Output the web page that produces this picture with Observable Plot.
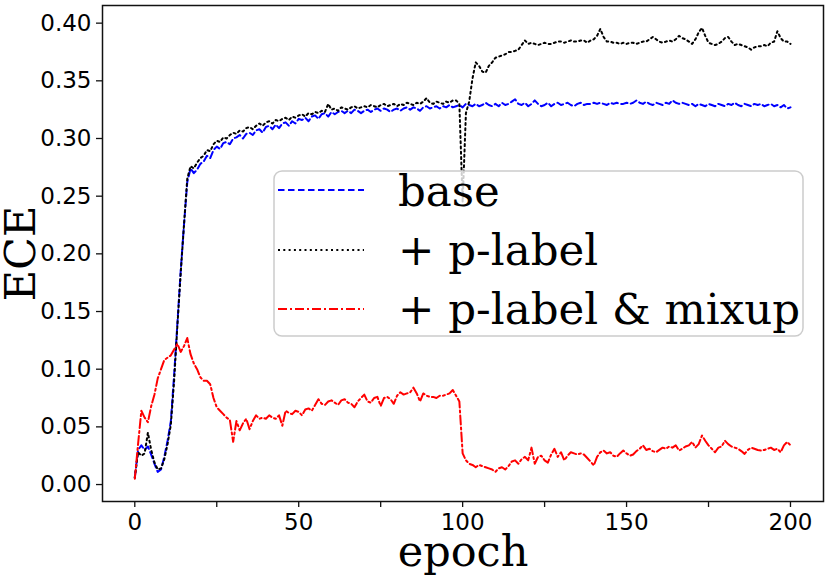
<!DOCTYPE html>
<html>
<head>
<meta charset="utf-8">
<script src="https://cdn.jsdelivr.net/npm/d3@7"></script>
<script src="https://cdn.jsdelivr.net/npm/@observablehq/plot@0.6"></script>
<style>
  html, body { margin: 0; padding: 0; background: white; }
  #wrap { position: relative; width: 830px; height: 581px; }
  #legend { position: absolute; left: 273px; top: 170px; }
</style>
</head>
<body>
<div id="wrap"></div>
<script>
// ECE per epoch (index = epoch 0..200)
const base = [
0.006,0.030,0.034,0.030,0.033,0.026,0.018,0.011,0.013,0.024,
0.038,0.055,0.095,0.140,0.185,0.225,0.262,0.274,0.270,0.273,
0.278,0.280,0.285,0.283,0.290,0.293,0.291,0.296,0.297,0.295,
0.300,0.301,0.303,0.300,0.304,0.305,0.303,0.307,0.308,0.305,
0.310,0.311,0.308,0.312,0.309,0.313,0.314,0.311,0.315,0.313,
0.317,0.316,0.318,0.315,0.319,0.320,0.317,0.321,0.322,0.319,
0.323,0.321,0.323,0.324,0.322,0.324,0.322,0.325,0.324,0.322,
0.324,0.325,0.323,0.325,0.326,0.324,0.326,0.325,0.323,0.325,
0.326,0.324,0.326,0.327,0.325,0.327,0.326,0.324,0.327,0.328,
0.326,0.327,0.328,0.326,0.328,0.327,0.329,0.327,0.328,0.329,
0.327,0.330,0.329,0.328,0.330,0.328,0.329,0.331,0.329,0.328,
0.330,0.328,0.331,0.329,0.330,0.332,0.334,0.330,0.329,0.331,
0.328,0.330,0.333,0.330,0.328,0.329,0.331,0.328,0.330,0.331,
0.329,0.330,0.331,0.329,0.328,0.330,0.331,0.329,0.330,0.330,
0.331,0.330,0.331,0.330,0.329,0.331,0.330,0.331,0.330,0.330,
0.331,0.330,0.331,0.333,0.331,0.330,0.332,0.330,0.329,0.331,
0.330,0.329,0.331,0.330,0.333,0.331,0.330,0.331,0.330,0.329,
0.330,0.328,0.330,0.329,0.328,0.330,0.329,0.328,0.330,0.329,
0.328,0.330,0.329,0.331,0.329,0.328,0.330,0.329,0.328,0.330,
0.329,0.330,0.328,0.329,0.330,0.328,0.329,0.327,0.329,0.326,
0.327];
const plabel = [
0.006,0.028,0.025,0.027,0.045,0.030,0.019,0.013,0.014,0.022,
0.035,0.052,0.090,0.138,0.183,0.225,0.265,0.276,0.274,0.279,
0.283,0.285,0.290,0.289,0.295,0.298,0.297,0.301,0.300,0.303,
0.305,0.304,0.307,0.306,0.309,0.310,0.308,0.311,0.313,0.311,
0.314,0.315,0.313,0.316,0.315,0.317,0.318,0.316,0.319,0.318,
0.320,0.321,0.319,0.322,0.321,0.323,0.322,0.324,0.323,0.330,
0.325,0.326,0.324,0.327,0.326,0.325,0.327,0.328,0.326,0.327,
0.328,0.327,0.329,0.328,0.327,0.329,0.330,0.328,0.329,0.330,
0.328,0.330,0.329,0.331,0.330,0.329,0.331,0.330,0.332,0.335,
0.331,0.330,0.332,0.331,0.330,0.332,0.331,0.333,0.333,0.330,
0.245,0.322,0.332,0.352,0.366,0.363,0.358,0.357,0.363,0.366,
0.370,0.371,0.372,0.373,0.375,0.375,0.376,0.377,0.381,0.385,
0.382,0.383,0.382,0.381,0.382,0.383,0.382,0.382,0.383,0.384,
0.384,0.383,0.384,0.385,0.384,0.384,0.385,0.385,0.383,0.385,
0.386,0.389,0.395,0.388,0.384,0.384,0.383,0.383,0.382,0.383,
0.382,0.383,0.383,0.382,0.383,0.384,0.384,0.386,0.388,0.386,
0.384,0.383,0.384,0.385,0.384,0.386,0.389,0.387,0.386,0.384,
0.382,0.386,0.392,0.396,0.389,0.383,0.382,0.381,0.382,0.384,
0.387,0.388,0.384,0.381,0.382,0.381,0.380,0.379,0.377,0.379,
0.380,0.380,0.381,0.380,0.383,0.384,0.393,0.387,0.384,0.384,
0.382];
const mixup = [
0.005,0.035,0.064,0.058,0.054,0.068,0.078,0.092,0.100,0.108,
0.110,0.112,0.117,0.122,0.115,0.120,0.127,0.113,0.105,0.100,
0.093,0.090,0.090,0.087,0.075,0.067,0.064,0.061,0.058,0.056,
0.037,0.055,0.047,0.053,0.057,0.048,0.055,0.060,0.057,0.058,
0.057,0.060,0.058,0.057,0.060,0.051,0.064,0.062,0.061,0.064,
0.063,0.060,0.065,0.066,0.064,0.069,0.074,0.070,0.069,0.072,
0.073,0.071,0.069,0.073,0.074,0.071,0.070,0.067,0.072,0.075,
0.078,0.072,0.071,0.075,0.076,0.068,0.075,0.076,0.074,0.070,
0.077,0.080,0.078,0.079,0.080,0.084,0.079,0.072,0.079,0.077,
0.076,0.076,0.075,0.077,0.077,0.078,0.079,0.082,0.077,0.072,
0.027,0.021,0.018,0.017,0.015,0.017,0.016,0.015,0.014,0.013,
0.011,0.014,0.015,0.013,0.016,0.020,0.021,0.018,0.022,0.024,
0.021,0.032,0.018,0.024,0.025,0.021,0.019,0.026,0.031,0.024,
0.028,0.021,0.025,0.028,0.027,0.026,0.027,0.026,0.023,0.020,
0.0165,0.024,0.028,0.0295,0.027,0.028,0.025,0.024,0.027,0.0295,
0.027,0.025,0.026,0.029,0.031,0.034,0.030,0.031,0.029,0.028,
0.030,0.032,0.031,0.033,0.032,0.034,0.0295,0.031,0.033,0.034,
0.037,0.032,0.035,0.0425,0.038,0.034,0.031,0.028,0.032,0.033,
0.038,0.035,0.033,0.032,0.031,0.029,0.0266,0.030,0.032,0.031,
0.030,0.0295,0.030,0.031,0.032,0.030,0.031,0.028,0.034,0.037,
0.034];

const seriesNames = ["base", "+ p-label", "+ p-label & mixup"];
const seriesColors = ["#0000ff", "#000000", "#ff0000"];
const seriesDash = ["6.5,3.5", "2,3.3", "9,3,2,3"];
const xTicks = [0, 25, 50, 75, 100, 125, 150, 175, 200];
const xTickLabels = [0, 50, 100, 150, 200];
const yTicks = [0, 0.05, 0.10, 0.15, 0.20, 0.25, 0.30, 0.35, 0.40];

const seriesData = [base, plabel, mixup];

const plot = Plot.plot({
  width: 830,
  height: 581,
  marginLeft: 102,
  marginRight: 7,
  marginTop: 5,
  marginBottom: 80,
  style: {fontFamily: "'DejaVu Sans', sans-serif", fontSize: "23px", background: "white", color: "black"},
  x: {domain: [-9.85, 210.07]},
  y: {domain: [-0.0147, 0.4153]},
  marks: [
    ...seriesData.map((arr, k) => Plot.line(arr, {
      x: (d, i) => i, y: d => d,
      stroke: seriesColors[k], strokeWidth: 2,
      strokeDasharray: seriesDash[k], strokeLinejoin: "round"
    })),
    Plot.frame({stroke: "#111", strokeWidth: 1.5}),
    Plot.axisY({ticks: yTicks, tickFormat: d3.format(".2f"), tickSize: 6, tickPadding: 5, label: null, stroke: "#111", strokeWidth: 1.3}),
    Plot.axisX({ticks: xTicks, tickFormat: d => xTickLabels.includes(d) ? String(d) : "", tickSize: 6, tickPadding: 6, label: null, stroke: "#111", strokeWidth: 1.3}),
    Plot.text(["ECE"], {frameAnchor: "left", dx: -68, rotate: -90, lineAnchor: "bottom", textAnchor: "middle",
      fontFamily: "'DejaVu Serif', serif", fontSize: 43, fill: "black"}),
    Plot.text(["epoch"], {frameAnchor: "bottom", dy: 64, lineAnchor: "bottom", textAnchor: "middle",
      fontFamily: "'DejaVu Serif', serif", fontSize: 43, fill: "black"})
  ]
});
document.getElementById("wrap").appendChild(plot);

// legend overlay (matplotlib-style, semi-transparent box)
const lg = d3.select("#wrap").append("svg")
  .attr("id", "legend").attr("width", 531).attr("height", 167);
lg.append("rect").attr("x", 1).attr("y", 1).attr("width", 529).attr("height", 165)
  .attr("rx", 8).attr("fill", "white").attr("fill-opacity", 0.8)
  .attr("stroke", "#cccccc").attr("stroke-width", 1.5);
const rowY = [20, 80, 139];
const rowBase = [36, 95, 154];
seriesNames.forEach((name, k) => {
  lg.append("line").attr("x1", 5).attr("x2", 91).attr("y1", rowY[k]).attr("y2", rowY[k])
    .attr("stroke", seriesColors[k]).attr("stroke-width", 1.8).attr("stroke-dasharray", seriesDash[k]);
  lg.append("text").attr("x", 125).attr("y", rowBase[k]).text(name)
    .attr("font-family", "'DejaVu Serif', serif").attr("font-size", 43.5).attr("fill", "black");
});
</script>
</body>
</html>
